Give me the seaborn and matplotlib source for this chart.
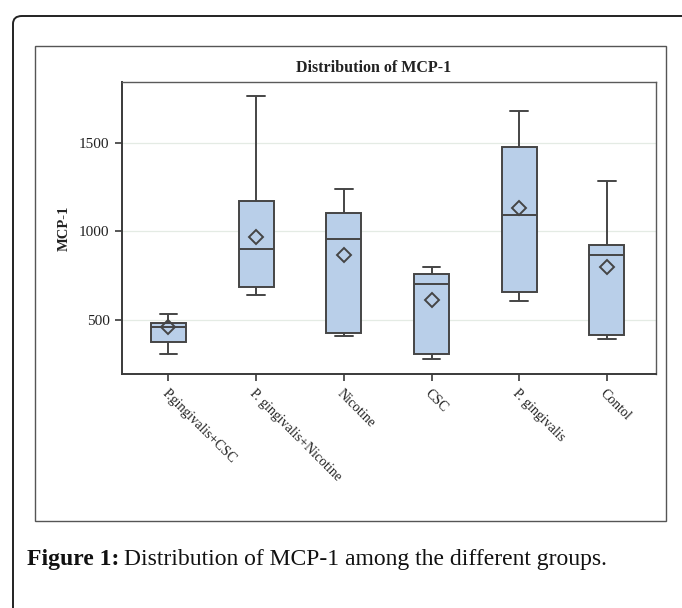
import pandas as pd
import numpy as np
import matplotlib
matplotlib.use("Agg")
import matplotlib.pyplot as plt
import matplotlib.patches as mpatches
import seaborn as sns

## data (MCP-1)
groups = ["P.gingivalis+CSC", "P. gingivalis+Nicotine", "Nicotine", "CSC",
          "P. gingivalis", "Contol"]
whisker_low = [308, 640, 411, 280, 608, 394]
q1 = [377, 687, 430, 310, 661, 419]
median = [464, 903, 958, 703, 1093, 869]
q3 = [483, 1173, 1106, 762, 1474, 926]
whisker_high = [534, 1765, 1241, 798, 1681, 1285]
means = [462, 971, 868, 614, 1131, 798]

W, H = 682, 608


def px(x, y):
    # pixel (from top-left) -> figure fraction
    return x / W, 1 - y / H


## build long table: 5 values per group -> quartiles fall exactly on them
rows = []
for i, g in enumerate(groups):
    for v in (whisker_low[i], q1[i], median[i], q3[i], whisker_high[i]):
        rows.append({"group": g, "MCP-1": v})
df = pd.DataFrame(rows)
df_mean = pd.DataFrame({"group": groups, "MCP-1": means})

sns.set_theme(style="white")
plt.rcParams["font.family"] = ["Liberation Serif", "DejaVu Serif"]

fig = plt.figure(figsize=(W / 100, H / 100), dpi=100)
ax = fig.add_axes([122 / W, 1 - 374 / H, (656 - 122) / W, (374 - 82) / H])

edge = "#454545"
sns.boxplot(data=df, x="group", y="MCP-1", order=groups, whis=np.inf,
            width=0.4, color="#b9cfe9", linecolor=edge, linewidth=1.4,
            saturation=1, fliersize=0, ax=ax)
for p in ax.patches:
    p.set_facecolor("#b9cfe9")

sns.pointplot(data=df_mean, x="group", y="MCP-1", order=groups,
              color=edge, markers="D", linestyle="none", errorbar=None,
              markerfacecolor="none", markersize=7, markeredgewidth=1.4,
              ax=ax)

ax.set_xlim(-0.53, 5.56)
ax.set_ylim(197, 1842)
ax.set_yticks([500, 1000, 1500])
ax.yaxis.grid(True, color="#e4ebe4", linewidth=0.9)
ax.set_axisbelow(True)

for s in ax.spines.values():
    s.set_color("#5a5a5a")
    s.set_linewidth(1.0)
ax.spines["left"].set_color("#3a3a3a")
ax.spines["bottom"].set_color("#3a3a3a")
ax.spines["left"].set_linewidth(1.4)
ax.spines["bottom"].set_linewidth(1.4)

ax.tick_params(axis="both", which="major", direction="out", length=5,
               width=1.2, color="#3a3a3a", labelcolor="#222222",
               bottom=True, left=True, pad=4)
ax.tick_params(axis="x", labelsize=10)
ax.tick_params(axis="y", labelsize=11)
ax.set_xticks(range(len(groups)))
ax.set_xticklabels(groups, rotation=-45, ha="left", va="top",
                   rotation_mode="anchor")

ax.set_xlabel("")
ax.set_ylabel("MCP-1", fontsize=10.5, fontweight="bold", color="#222222",
              labelpad=6)
fig.text(*px(374, 68), "Distribution of MCP-1", ha="center", va="center",
         fontsize=11.5, fontweight="bold", color="#222222")

# frames
x0, y0 = px(35, 521)
x1, y1 = px(666, 46)
fig.add_artist(mpatches.Rectangle((x0, y0), x1 - x0, y1 - y0,
                                  transform=fig.transFigure, fill=False,
                                  edgecolor="#555555", linewidth=1.0))
fx, fy = px(13, 16)
fig.add_artist(mpatches.FancyBboxPatch((fx, -0.1), 1.2, fy + 0.1,
                                       boxstyle="round,pad=0,rounding_size=0.013",
                                       transform=fig.transFigure, fill=False,
                                       edgecolor="#222222", linewidth=1.4))

# caption
cx, cy = px(27, 560)
t1 = fig.text(cx, cy, "Figure 1:", ha="left", va="center", fontsize=17,
              fontweight="bold", color="#111111")
fig.canvas.draw()
bb = t1.get_window_extent(renderer=fig.canvas.get_renderer())
fig.text(bb.x1 / W + 5 / W, cy, "Distribution of MCP-1 among the different groups.",
         ha="left", va="center", fontsize=17, color="#111111")

fig.savefig("out.png", dpi=100)
